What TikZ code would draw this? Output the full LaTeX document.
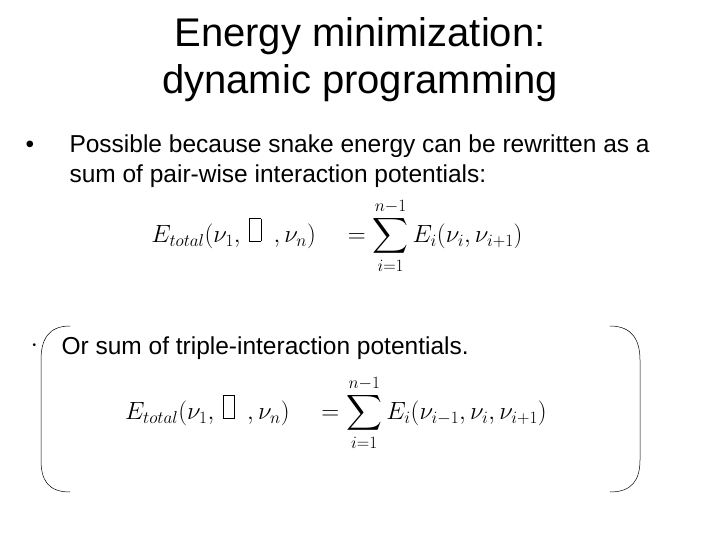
\documentclass[tikz,border=0pt]{standalone}
\usepackage{fontspec}
\usepackage{amsmath}
\setmainfont{Liberation Sans}
\newcommand{\missbox}{\,\raisebox{0.1ex}{\setlength{\fboxsep}{0pt}\setlength{\fboxrule}{0.4pt}\fbox{\rule{0pt}{0.9em}\hspace{0.45em}}}\,\,\,}
\begin{document}
\begin{tikzpicture}[x=1pt,y=-1pt,
  ttl/.style={font=\fontsize{40}{47}\selectfont,align=center},
  body/.style={font=\fontsize{24.5}{30}\selectfont,align=left,anchor=west},
  eqn/.style={font=\fontsize{25}{30}\selectfont,anchor=center},
  brk/.style={draw=black,line width=0.5pt}]
\useasboundingbox (0,0) rectangle (720,540);
\node[ttl] (title) at (360,60) {Energy minimization:\\dynamic programming};
\node[body] (b1) at (22,161) {\makebox[44pt][l]{\textbullet}Possible because snake energy can be rewritten as a\\\hspace*{44pt}sum of pair-wise interaction potentials:};
\node[eqn] (e1) at (337,236) {$E_{total}(\nu_1,\missbox,\nu_n)\quad=\displaystyle\sum_{i=1}^{n-1}E_i(\nu_i,\nu_{i+1})$};
\node[body] (b2) at (29,348) {\makebox[29pt][l]{\raisebox{0.25em}{\fontsize{10}{12}\selectfont\textbullet}}Or sum of triple-interaction potentials.};
\node[eqn] (e2) at (336,413) {$E_{total}(\nu_1,\missbox,\nu_n)\quad=\displaystyle\sum_{i=1}^{n-1}E_i(\nu_{i-1},\nu_i,\nu_{i+1})$};
\draw[brk] (70,326) .. controls (48,326) and (41,340) .. (41,360) -- (41,460) .. controls (41,480) and (48,492) .. (70,492);
\draw[brk] (610,326) .. controls (632,326) and (640,340) .. (640,360) -- (640,460) .. controls (640,480) and (632,492) .. (610,492);
\end{tikzpicture}
\end{document}
